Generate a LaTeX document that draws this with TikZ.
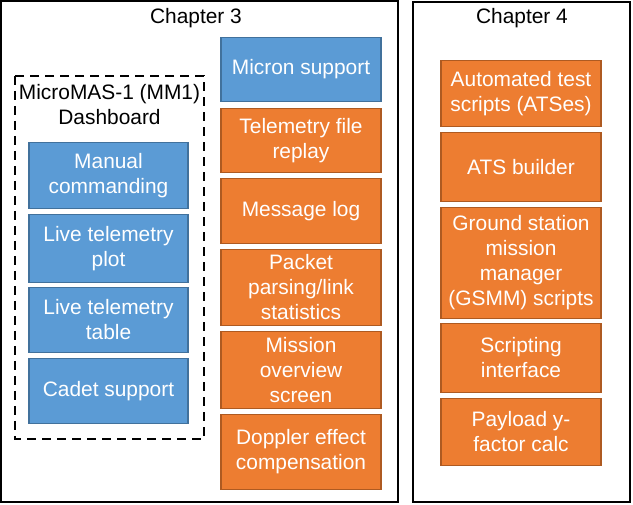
\documentclass[tikz,border=0pt]{standalone}
\usepackage{fontspec}
\setmainfont{Liberation Sans}
\definecolor{bfill}{HTML}{5B9BD5}
\definecolor{bline}{HTML}{41719C}
\definecolor{ofill}{HTML}{ED7D31}
\definecolor{oline}{HTML}{AE5A21}
\begin{document}
\begin{tikzpicture}[x=1pt,y=-1pt,
  txt/.style={font=\fontsize{20.9}{25}\selectfont, align=center, inner sep=1pt},
  bbox/.style={txt, draw=bline, fill=bfill, line width=1.3pt, text=white, minimum width=159pt},
  obox/.style={txt, draw=oline, fill=ofill, line width=1.3pt, text=white, minimum width=160pt},
  chap/.style={draw=black, line width=1.8pt},
  dash box/.style={draw=black, line width=2.2pt, dash pattern=on 9pt off 6pt}]
\useasboundingbox (0,0) rectangle (633,505);
% chapter frames
\draw[chap] (1,1) rectangle (398,502);
\draw[chap] (413,2) rectangle (630,502);
\node[txt] (t3) at (196,18) {Chapter 3};
\node[txt] (t4) at (522,18) {Chapter 4};
% dashboard
\draw[dash box] (15,76) rectangle (204,439);
\node[txt] (mm1) at (109.5,105) {MicroMAS-1 (MM1)\\Dashboard};
\node[bbox, minimum height=66pt] (mc) at (108.5,175.5) {Manual\\commanding};
\node[bbox, minimum height=68pt] (ltp) at (108.5,248.5) {Live telemetry\\plot};
\node[bbox, minimum height=65pt] (ltt) at (108.5,320) {Live telemetry\\table};
\node[bbox, minimum height=65pt] (cs) at (108.5,391) {Cadet support};
% chapter 3 right column
\node[bbox, minimum width=160pt, minimum height=64pt] (ms) at (301,69.5) {Micron support};
\node[obox, minimum height=64pt] (tfr) at (301,140.5) {Telemetry file\\replay};
\node[obox, minimum height=65pt] (ml) at (301,211) {Message log};
\node[obox, minimum height=76pt] (pp) at (301,287.5) {Packet\\parsing/link\\statistics};
\node[obox, minimum height=77pt] (mos) at (301,370) {Mission\\overview\\screen};
\node[obox, minimum height=75pt] (dec) at (301,452) {Doppler effect\\compensation};
% chapter 4 column
\node[obox, minimum height=66pt] (ats) at (521,93.5) {Automated test\\scripts (ATSes)};
\node[obox, minimum height=69pt] (atsb) at (521,167) {ATS builder};
\node[obox, minimum height=111pt] (gsmm) at (521,263) {Ground station\\mission\\manager\\(GSMM) scripts};
\node[obox, minimum height=69pt] (si) at (521,358) {Scripting\\interface};
\node[obox, minimum height=67pt] (pl) at (521,432) {Payload y-\\factor calc};
\end{tikzpicture}
\end{document}
